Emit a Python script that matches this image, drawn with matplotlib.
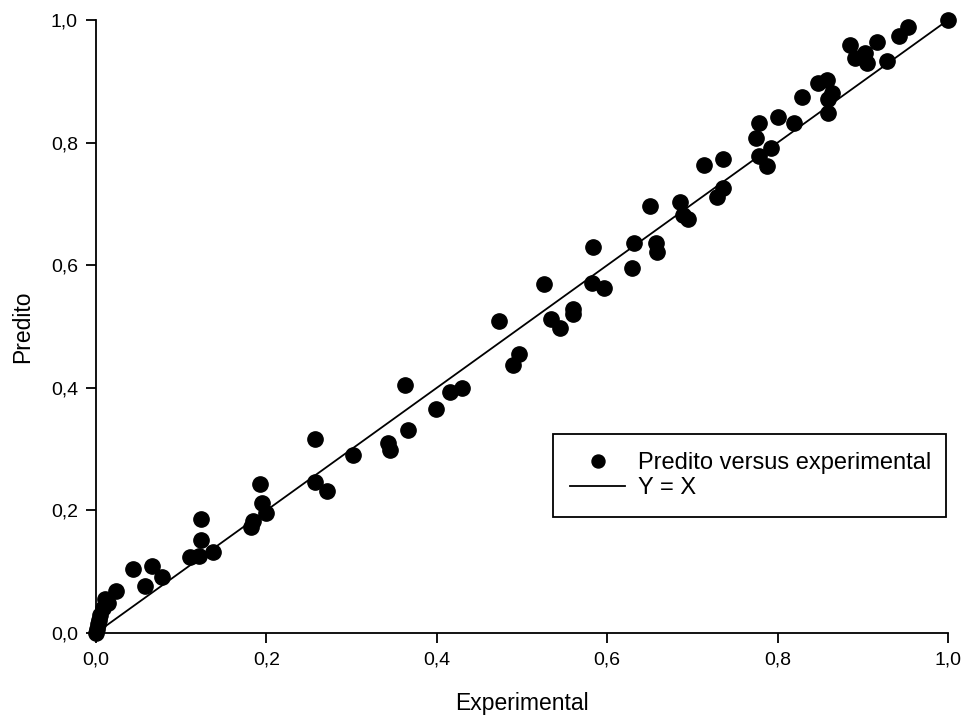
import numpy as np
import matplotlib
matplotlib.use('Agg')
import matplotlib.pyplot as plt

# valores
experimental = [0.000, 0.001, 0.002, 0.004, 0.005, 0.008, 0.011, 0.014, 0.023,
                0.043, 0.057, 0.066, 0.077, 0.110, 0.121, 0.123, 0.123, 0.137,
                0.182, 0.184, 0.192, 0.195, 0.200, 0.257, 0.257, 0.271, 0.302,
                0.343, 0.345, 0.363, 0.366, 0.399, 0.415, 0.430, 0.473, 0.489,
                0.497, 0.526, 0.534, 0.545, 0.560, 0.560, 0.582, 0.583, 0.596,
                0.629, 0.632, 0.650, 0.657, 0.658, 0.685, 0.689, 0.695, 0.714,
                0.729, 0.736, 0.736, 0.775, 0.778, 0.778, 0.788, 0.792, 0.800,
                0.819, 0.829, 0.847, 0.858, 0.859, 0.859, 0.864, 0.885, 0.891,
                0.903, 0.905, 0.917, 0.928, 0.943, 0.953, 1.000]
predito = [0.000, 0.006, 0.014, 0.022, 0.030, 0.040, 0.055, 0.049, 0.068,
           0.105, 0.077, 0.109, 0.091, 0.124, 0.126, 0.152, 0.186, 0.132,
           0.173, 0.183, 0.243, 0.212, 0.196, 0.316, 0.246, 0.232, 0.290,
           0.310, 0.299, 0.405, 0.331, 0.365, 0.393, 0.400, 0.509, 0.437,
           0.455, 0.569, 0.512, 0.498, 0.528, 0.520, 0.571, 0.630, 0.563,
           0.595, 0.636, 0.696, 0.636, 0.622, 0.703, 0.682, 0.675, 0.763,
           0.711, 0.773, 0.726, 0.807, 0.832, 0.778, 0.762, 0.791, 0.842,
           0.832, 0.874, 0.897, 0.902, 0.871, 0.848, 0.881, 0.959, 0.938,
           0.946, 0.930, 0.964, 0.933, 0.974, 0.989, 1.000]
linha = [0.0, 1.0]
ticks = [0.0, 0.2, 0.4, 0.6, 0.8, 1.0]
tick_labels = ['0,0', '0,2', '0,4', '0,6', '0,8', '1,0']

plt.rcParams['font.family'] = ['Liberation Sans', 'DejaVu Sans']

fig = plt.figure(figsize=(9.63, 7.18), dpi=100)
ax = fig.add_axes([0.0997, 0.1184, 0.8847, 0.8537])

ax.plot(experimental, predito, linestyle='none', marker='o', ms=11, color='black',
        label='Predito versus experimental', clip_on=False, zorder=3)
ax.plot(linha, linha, color='black', linewidth=1.3, label='Y = X')

ax.set_xlim(0, 1)
ax.set_ylim(0, 1)
ax.set_xticks(ticks)
ax.set_xticklabels(tick_labels)
ax.set_yticks(ticks)
ax.set_yticklabels(tick_labels)
ax.spines['top'].set_visible(False)
ax.spines['right'].set_visible(False)
for s in ['left', 'bottom']:
    ax.spines[s].set_linewidth(1.3)
ax.tick_params(direction='out', length=7, width=1.3, labelsize=14, pad=6)

ax.set_xlabel('Experimental', fontsize=16.5, labelpad=17)
ax.set_ylabel('Predito', fontsize=16.5, labelpad=12)

leg = ax.legend(loc='lower left', bbox_to_anchor=(0.536, 0.189, 0.462, 0.137),
                mode='expand', borderaxespad=0, fontsize=17, frameon=True,
                fancybox=False, edgecolor='black', framealpha=1, borderpad=0.75,
                labelspacing=0.15, handlelength=2.3, handletextpad=0.55,
                markerscale=0.85)
leg.get_frame().set_linewidth(1.3)

plt.savefig('out.png', dpi=100)
